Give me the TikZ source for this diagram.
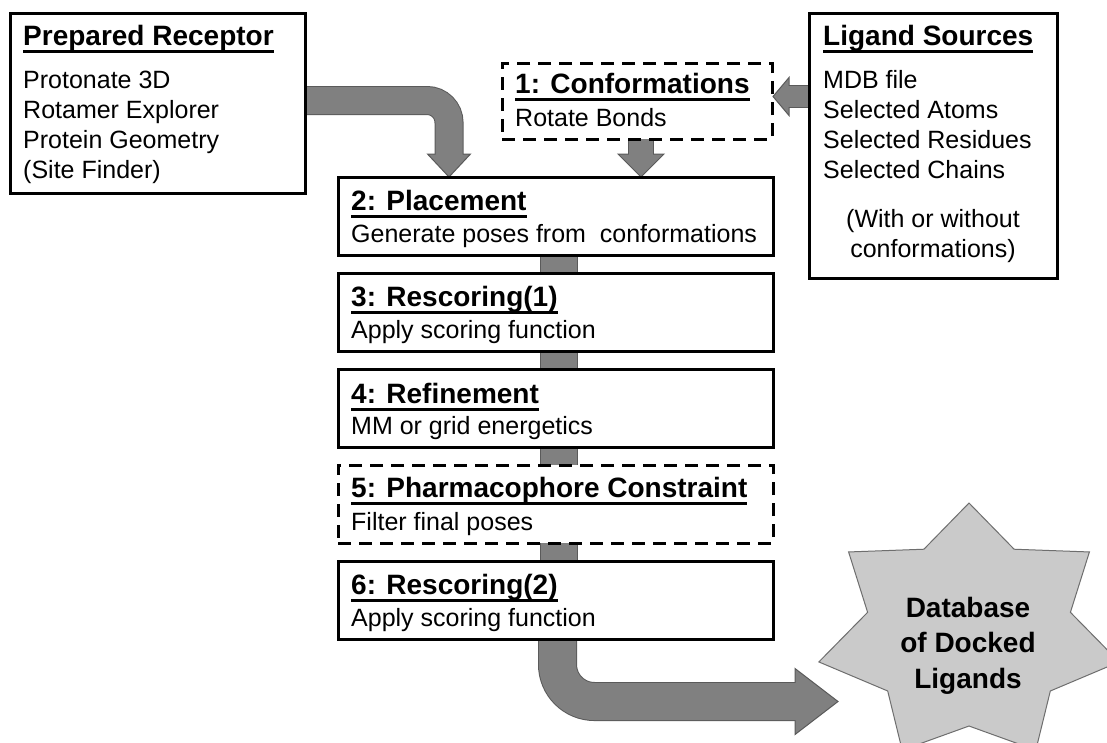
\documentclass[tikz,border=0pt]{standalone}
\usepackage{fontspec}
\setmainfont{Liberation Sans}
\usetikzlibrary{calc}
\definecolor{arrfill}{HTML}{808080}
\definecolor{arredge}{HTML}{5A5A5A}
\definecolor{starfill}{HTML}{CACACA}
\definecolor{staredge}{HTML}{6E6E6E}
\pgfdeclarelayer{bg}
\pgfsetlayers{bg,main}
\newcommand\hdul[1]{\setbox0=\hbox{#1}\rlap{\rule[-7.5pt]{\wd0}{2.5pt}}\box0}
\newcommand\barrow[7]{%
  \draw[arredge, line width=#1pt, rounded corners=#3pt] #4;
  \filldraw[fill=arrfill, draw=arredge, line width=1pt, line join=miter]
    ($(#5)!#7pt!90:(#6)$) -- (#6) -- ($(#5)!#7pt!-90:(#6)$) -- cycle;
  \draw[arrfill, line width=#2pt, rounded corners=#3pt] #4;
}
\tikzset{
  box/.style={draw=black, line width=3pt, fill=white, inner sep=0pt, outer sep=0pt, anchor=north west},
  dbox/.style={box, dash pattern=on 13pt off 8pt},
  hd/.style={anchor=base west, inner sep=0pt, font=\bfseries\fontsize{28}{34}\selectfont},
  bd/.style={anchor=base west, inner sep=0pt, font=\fontsize{25}{30}\selectfont},
  bdc/.style={anchor=base, inner sep=0pt, font=\fontsize{25}{30}\selectfont},
  dbtext/.style={align=center, inner sep=0pt, font=\bfseries\fontsize{28}{35.5}\selectfont},
}
\begin{document}
\begin{tikzpicture}[x=1pt,y=-1pt]
\useasboundingbox (0,0) rectangle (1107,742);

% boxes
\node[box, minimum width=295pt, minimum height=180pt] (rec) at (10,13) {};
\node[box, minimum width=248pt, minimum height=265pt] (lig) at (809,13) {};
\node[dbox, minimum width=270pt, minimum height=76pt] (conf) at (502,63) {};
\node[box, minimum width=435pt, minimum height=78pt] (b2) at (338,177) {};
\node[box, minimum width=435pt, minimum height=78pt] (b3) at (338,273) {};
\node[box, minimum width=435pt, minimum height=78pt] (b4) at (338,369) {};
\node[dbox, minimum width=435pt, minimum height=78pt] (b5) at (338,465) {};
\node[box, minimum width=435pt, minimum height=78pt] (b6) at (338,561) {};

% texts
\node[hd] (rech) at (23,45) {\hdul{Prepared Receptor}};
\node[bd] (rec1) at (23,88) {Protonate 3D};
\node[bd] (rec2) at (23,118) {Rotamer Explorer};
\node[bd] (rec3) at (23,148) {Protein Geometry};
\node[bd] (rec4) at (23,178) {(Site Finder)};

\node[hd] (ligh) at (823,45) {\hdul{Ligand Sources}};
\node[bd] (lig1) at (823,88) {MDB file};
\node[bd] (lig2) at (823,118) {Selected Atoms};
\node[bd] (lig3) at (823,148) {Selected Residues};
\node[bd] (lig4) at (823,178) {Selected Chains};
\node[bdc] (lig5) at (933,227) {(With or without};
\node[bdc] (lig6) at (933,257) {conformations)};

\node[hd] (confh) at (515,93) {\hdul{1: Conformations}};
\node[bd] (confb) at (515,126) {Rotate Bonds};

\node[hd] (b2h) at (351,210) {\hdul{2: Placement}};
\node[bd] (b2b) at (351,242) {Generate poses from \ conformations};
\node[hd] (b3h) at (351,306) {\hdul{3: Rescoring(1)}};
\node[bd] (b3b) at (351,338) {Apply scoring function};
\node[hd] (b4h) at (351,403) {\hdul{4: Refinement}};
\node[bd] (b4b) at (351,434) {MM or grid energetics};
\node[hd] (b5h) at (351,497) {\hdul{5: Pharmacophore Constraint}};
\node[bd] (b5b) at (351,530) {Filter final poses};
\node[hd] (b6h) at (351,594) {\hdul{6: Rescoring(2)}};
\node[bd] (b6b) at (351,626) {Apply scoring function};

% star
\filldraw[fill=starfill, draw=staredge, line width=1pt]
  plot[samples at={0,...,13}, variable=\i]
  ({969+(129+25*cos(\i*180))*cos(90+\i*360/14)}, {633-(111.5+18.5*cos(\i*180))*sin(90+\i*360/14)}) -- cycle;
\node[dbtext] (db) at (968,645.5) {Database\\of Docked\\Ligands};

% arrow coordinates
\coordinate (recTip) at ($(b2.north)+(-106.5,0)$);
\coordinate (recBase) at ($(recTip)+(0,-23)$);
\coordinate (confTip) at ($(b2.north)+(85.5,0)$);
\coordinate (confBase) at ($(confTip)+(0,-23)$);
\coordinate (ligTip) at ($(conf.east)+(1,-4.5)$);
\coordinate (ligBase) at ($(ligTip)+(16,0)$);
\coordinate (dbTip) at (838,701.5);
\coordinate (dbBase) at ($(dbTip)+(-43,0)$);

\begin{pgfonlayer}{bg}
  \fill[white] (0,0) rectangle (1107,742);
  % receptor -> placement
  \barrow{29}{27}{22}{($(rec.center)+(0,-2.5)$) -| ($(recTip)+(0,-21)$)}{recBase}{recTip}{21.5}
  % conformations -> placement
  \barrow{26}{24}{0}{(confTip |- conf.center) -- ($(confTip)+(0,-21)$)}{confBase}{confTip}{23}
  % ligand sources -> conformations
  \barrow{23}{21}{0}{(lig.center |- ligTip) -- ($(ligTip)+(14,0)$)}{ligBase}{ligTip}{19}
  % chain connectors
  \foreach \a/\b in {b2/b3,b3/b4,b4/b5,b5/b6}{
    \draw[arredge, line width=38pt] ($(\a.center)+(3.5,0)$) -- ($(\b.center)+(3.5,0)$);
    \draw[arrfill, line width=36pt] ($(\a.center)+(3.5,0)$) -- ($(\b.center)+(3.5,0)$);
  }
  % rescoring(2) -> database
  \barrow{39}{37}{37}{($(b6.center)+(2,0)$) |- ($(dbTip)+(-41,0)$)}{dbBase}{dbTip}{33}
\end{pgfonlayer}
\end{tikzpicture}
\end{document}
